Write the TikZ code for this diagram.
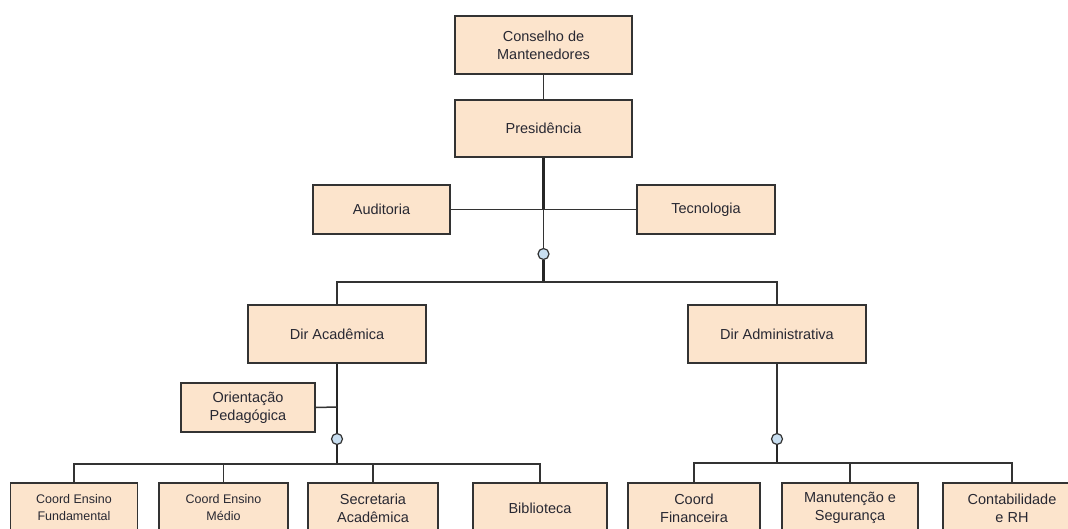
\documentclass[tikz,border=0pt]{standalone}
\usepackage{fontspec}
\setmainfont{Liberation Sans}
\definecolor{boxfill}{RGB}{252,228,204}
\definecolor{boxline}{RGB}{51,51,51}
\definecolor{txt}{RGB}{40,40,50}
\definecolor{dotfill}{RGB}{200,222,240}
\begin{document}
\begin{tikzpicture}[x=1pt,y=-1pt,
  box/.style={draw=boxline,fill=boxfill,line width=1.5pt,align=center,text=txt,
    font=\fontsize{14.5}{18}\selectfont,inner sep=0pt},
  smallbox/.style={box,font=\fontsize{12.5}{17}\selectfont},
  conn/.style={draw=boxline,line width=1.5pt},
  thick conn/.style={draw=black!85,line width=2.4pt},
  dot/.style={circle,draw=boxline,fill=dotfill,line width=1.2pt,minimum size=11pt,inner sep=0pt}]
\useasboundingbox (0,0) rectangle (1068,528);
% top
\node[box,minimum width=177pt,minimum height=58pt] (cons) at (543.5,45) {Conselho de\\Mantenedores};
\node[box,minimum width=177pt,minimum height=57pt] (pres) at (543.5,128.5) {Presidência};
\node[box,minimum width=137pt,minimum height=49pt] (aud) at (381.5,209.5) {Auditoria};
\node[box,minimum width=138pt,minimum height=49pt] (tec) at (706,209.5) {Tecnologia};
\node[box,minimum width=178pt,minimum height=58pt] (dacad) at (337,334) {Dir Acadêmica};
\node[box,minimum width=178pt,minimum height=58pt] (dadm) at (777,334) {Dir Administrativa};
\node[box,minimum width=134pt,minimum height=49pt] (ori) at (248,407.5) {Orientação\\Pedagógica};
% bottom
\node[smallbox,minimum width=127pt,minimum height=50pt] (cef) at (74,508) {Coord Ensino\\Fundamental};
\node[smallbox,minimum width=129pt,minimum height=50pt] (cem) at (223.5,508) {Coord Ensino\\Médio};
\node[box,minimum width=130pt,minimum height=50pt] (sec) at (373,508) {Secretaria\\Acadêmica};
\node[box,minimum width=134pt,minimum height=50pt] (bib) at (540,508) {Biblioteca};
\node[box,minimum width=132pt,minimum height=50pt] (cfin) at (694,508) {Coord\\Financeira};
\node[box,minimum width=136pt,minimum height=50pt] (man) at (850,508) {Manutenção e\\Segurança};
\node[box,minimum width=138pt,minimum height=50pt] (crh) at (1012,508) {Contabilidade\\e RH};
% junctions
\coordinate (j1) at (543.5,210);
\node[dot] (d1) at (543.5,254) {};
\coordinate (j2) at (543.5,282);
\coordinate (j3) at (337,407);
\node[dot] (d2) at (337,439) {};
\coordinate (j4) at (337,464);
\node[dot] (d3) at (777,439) {};
\coordinate (j5) at (777,463);
% connectors
\draw[conn] (cons.south) -- (pres.north);
\draw[thick conn] (pres.south) -- (j1);
\draw[conn] (aud.east) -- (tec.west);
\draw[conn] (j1) -- (d1.north);
\draw[thick conn] (d1.south) -- (j2);
\draw[conn] (dacad.north) |- (j2) -| (dadm.north);
\draw[thick conn] (dacad.south) -- (d2.north);
\draw[conn] (ori.east) -- (j3);
\draw[thick conn] (d2.south) -- (j4);
\draw[conn] (cef.north) |- (j4) -| (bib.north);
\draw[conn] (cem.north) -- (cem.north |- j4);
\draw[conn] (sec.north) -- (sec.north |- j4);
\draw[conn] (dadm.south) -- (d3.north);
\draw[thick conn] (d3.south) -- (j5);
\draw[conn] (cfin.north) |- (j5) -| (crh.north);
\draw[conn] (man.north) -- (man.north |- j5);
\end{tikzpicture}
\end{document}
